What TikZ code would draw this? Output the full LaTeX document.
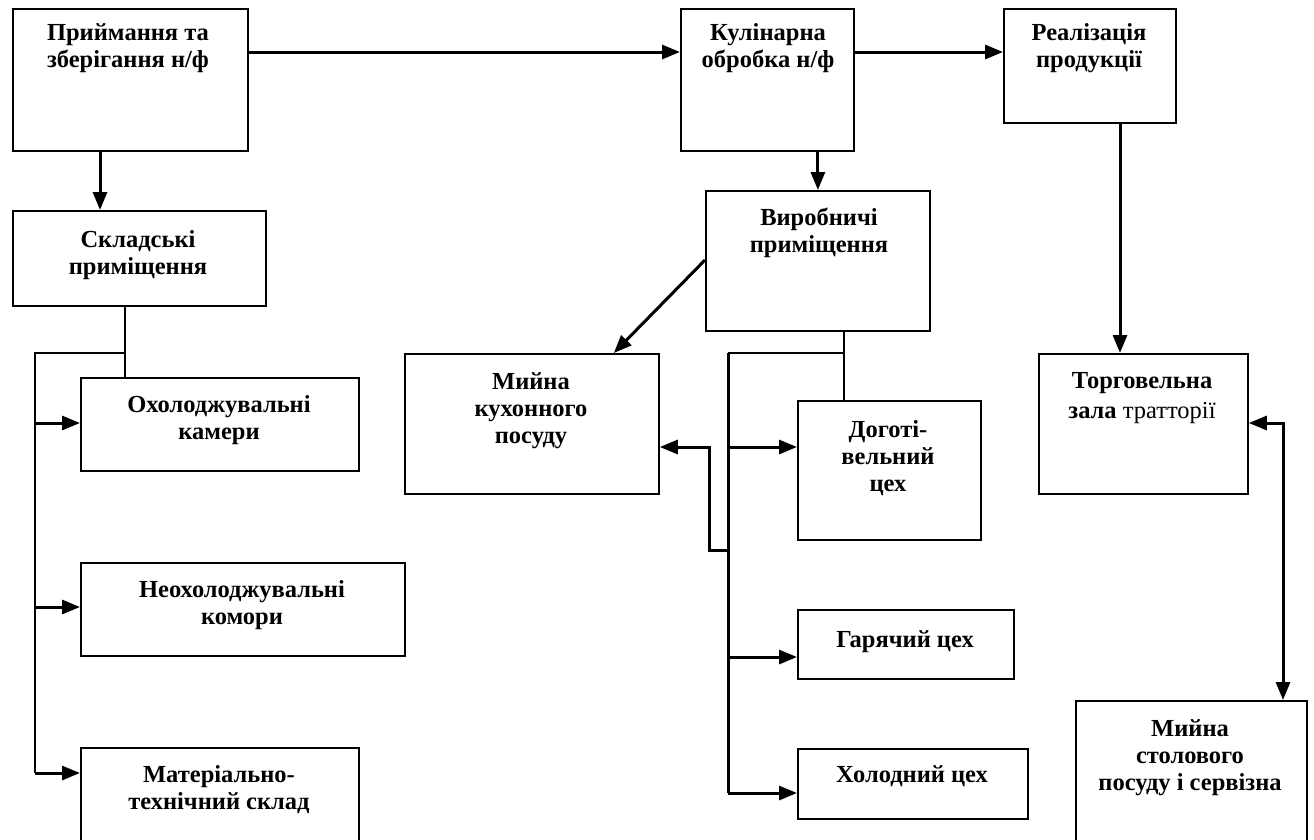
\documentclass[tikz,border=0pt]{standalone}
\usepackage{fontspec}
\setmainfont{Liberation Serif}
\usetikzlibrary{arrows.meta}
\tikzset{
  box/.style={draw, line width=1.8pt, rectangle, inner sep=0pt, anchor=north west},
  txt/.style={font=\fontsize{24.5}{27}\selectfont\bfseries, align=center, inner sep=0pt, anchor=base},
  arr/.style={line width=3pt, -{Triangle[length=18pt,width=14pt]}},
  arrtwo/.style={line width=3pt, {Triangle[length=18pt,width=14pt]}-{Triangle[length=18pt,width=14pt]}},
  conn/.style={line width=1.8pt},
  trunk/.style={line width=2.2pt},
  thicktrunk/.style={line width=3pt}
}
\newcommand\mkbox[5]{\node[box, minimum width={(#4)-(#2)}, minimum height={(#5)-(#3)}] (#1) at (#2,#3) {};}
\begin{document}
\begin{tikzpicture}[x=1pt,y=-1pt]
\useasboundingbox (0,0) rectangle (1314,839);
% boxes
\mkbox{A}{12}{8}{247}{150}
\mkbox{B}{680}{8}{853}{150}
\mkbox{C}{1003}{8}{1175}{122}
\mkbox{D}{705}{190}{929}{330}
\mkbox{G}{12}{210}{265}{305}
\mkbox{H}{80}{377}{358}{470}
\mkbox{I}{80}{562}{404}{655}
\mkbox{J}{80}{747}{358}{850}
\mkbox{K}{404}{353}{658}{493}
\mkbox{L}{797}{400}{980}{539}
\mkbox{M}{797}{609}{1013}{678}
\mkbox{N}{797}{748}{1027}{818}
\mkbox{E}{1038}{353}{1247}{493}
\mkbox{F}{1075}{700}{1306}{850}
% texts (anchor = baseline of last line)
\node[txt] (At) at (128,67) {Приймання та\\зберігання н/ф};
\node[txt] (Bt) at (768,67) {Кулінарна\\обробка н/ф};
\node[txt] (Ct) at (1089,67) {Реалізація\\продукції};
\node[txt] (Dt) at (819,252) {Виробничі\\приміщення};
\node[txt] (Gt) at (138,274) {Складські\\приміщення};
\node[txt] (Ht) at (219,439) {Охолоджувальні\\камери};
\node[txt] (It) at (242,624) {Неохолоджувальні\\комори};
\node[txt] (Jt) at (219,809) {Матеріально-\\технічний склад};
\node[txt] (Kt) at (531,443) {Мийна\\кухонного\\посуду};
\node[txt] (Lt) at (888,491) {Доготі-\\вельний\\цех};
\node[txt] (Mt) at (905,647) {Гарячий цех};
\node[txt] (Nt) at (912,782) {Холодний цех};
\node[txt, font=\fontsize{24.5}{30}\selectfont\bfseries] (Et) at (1142,418) {Торговельна\\зала {\mdseries тратторії}};
\node[txt] (Ft) at (1190,790) {Мийна\\столового\\посуду і сервізна};
% coordinates
\coordinate (xAG) at (100,0);
\coordinate (xCE) at (1120,0);
\coordinate (xEF) at (1283,0);
\coordinate (xG) at (125,0);
\coordinate (xL) at (35,0);
\coordinate (xD) at (844,0);
\coordinate (xT) at (728,0);
\coordinate (xK) at (709,0);
\coordinate (yS) at (0,353);
% top row
\draw[arr] ([yshift=-44pt]A.north east) -- ([yshift=-44pt]B.north west);
\draw[arr] ([yshift=-44pt]B.north east) -- ([yshift=-44pt]C.north west);
\draw[arr] (B.south -| D.north) -- (D.north);
\draw[arr] (C.south -| xCE) -- (E.north -| xCE);
\draw[arr] (A.south -| xAG) -- (G.north -| xAG);
\draw[arrtwo] ([yshift=-70pt]E.north east) -| (F.north -| xEF);
% storage branch
\draw[conn] (G.south -| xG) -- (H.north -| xG);
\draw[trunk] (xG |- yS) -- (xL |- yS) -- (xL |- 0,773);
\draw[arr] (xL |- 0,423) -- (H.west |- 0,423);
\draw[arr] (xL |- 0,607) -- (I.west |- 0,607);
\draw[arr] (xL |- 0,773) -- (J.west |- 0,773);
% production branch
\draw[arr] ([yshift=-70pt]D.north west) -- ([xshift=-46pt]K.north east);
\draw[conn] (D.south -| xD) -- (L.north -| xD);
\draw[trunk] (xD |- yS) -- (xT |- yS);
\draw[thicktrunk] (xT |- yS) -- (xT |- 0,793);
\draw[arr] (xT |- 0,447) -- (L.west |- 0,447);
\draw[arr] (xT |- 0,657) -- (M.west |- 0,657);
\draw[arr] (xT |- 0,793) -- (N.west |- 0,793);
\draw[arr] (xT |- 0,550) -- (xK |- 0,550) -- (xK |- 0,447) -- (K.east |- 0,447);
\end{tikzpicture}
\end{document}
